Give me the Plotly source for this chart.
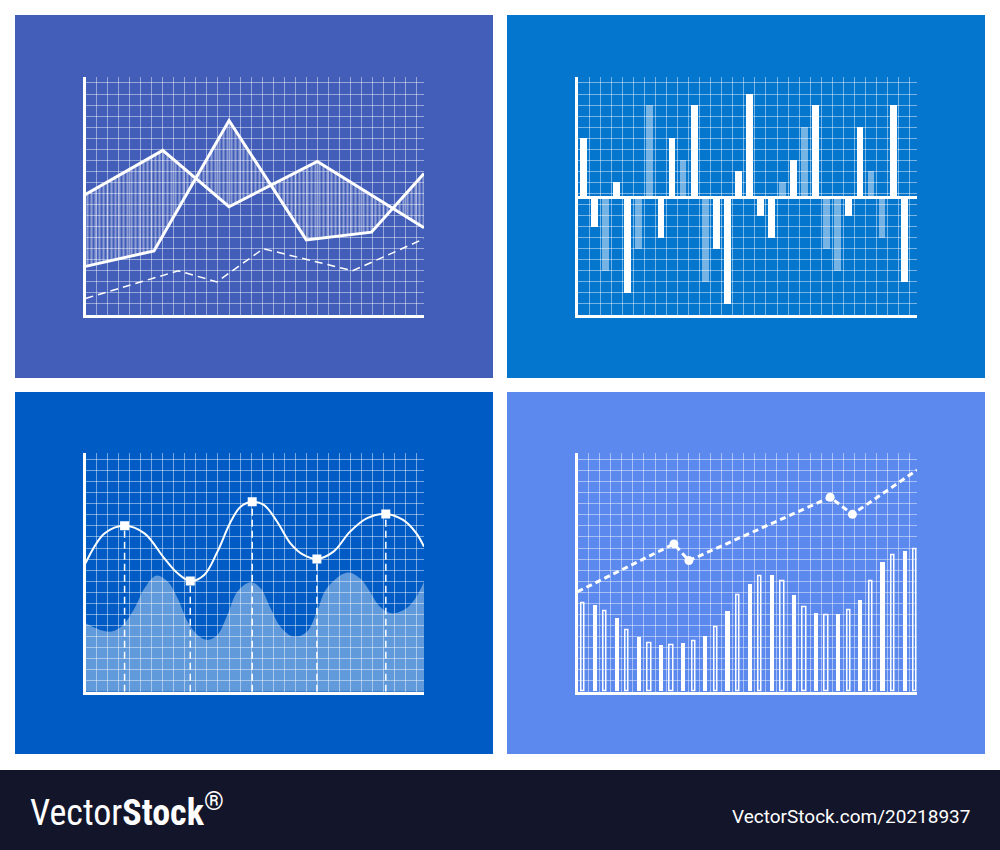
import plotly.graph_objects as go

W, H = 1000, 850

# ---------------- data (values in grid-cell units) ----------------
# Chart 1: two crossing lines with hatched band + dashed line
c1_a_x = [0, 7.0, 13.0, 21.0, 30.66]
c1_a_y = [10.9, 14.9, 9.8, 13.9, 7.9]
c1_b_x = [0, 6.2, 13.0, 20.0, 25.9, 30.66]
c1_b_y = [4.4, 5.8, 17.6, 6.8, 7.5, 12.8]
c1_d_x = [0, 8.4, 11.9, 16.1, 24.2, 30.66]
c1_d_y = [1.5, 4.0, 3.0, 6.0, 4.0, 6.9]

# Chart 2: positive / negative bars (relative to zero line)
c2_values = [5.4, -2.6, -6.6, 1.4, -8.6, -4.6, 8.4, -3.6, 5.4, 3.4,
             8.4, -7.6, -4.6, -9.6, 2.4, 9.4, -1.6, -3.6, 1.4, 3.4,
             6.4, 8.4, -4.6, -6.6, -1.6, 6.4, 2.4, -3.6, 8.4, -7.6]
c2_faded = [0, 0, 1, 0, 0, 1, 1, 0, 0, 1,
            0, 1, 0, 0, 0, 0, 0, 0, 1, 0,
            1, 0, 1, 1, 0, 0, 1, 1, 0, 0]

# Chart 3: smooth curve with highlighted points + wave area
c3_curve_x = [0.0, 1.74, 3.54, 5.34, 7.14, 8.35, 9.49, 10.75, 11.95, 13.15,
              14.05, 15.1, 16.16, 17.36, 18.56, 19.76, 20.96, 22.46, 23.96,
              25.47, 27.2, 28.77, 29.97, 30.66]
c3_curve_y = [11.62, 14.33, 15.02, 14.33, 12.07, 10.71, 10.02, 10.56, 12.67, 15.38,
              16.74, 17.19, 16.9, 15.38, 13.43, 12.37, 12.01, 12.67, 14.48,
              15.69, 16.08, 15.54, 14.33, 13.12]
c3_point_x = [3.54, 9.49, 15.1, 20.96, 27.2]
c3_point_y = [15.02, 10.02, 17.19, 12.01, 16.08]
c3_wave_x = [0.0, 2.04, 3.24, 4.44, 5.34, 6.40, 7.45, 8.35, 9.25, 10.15, 11.05,
             11.95, 12.85, 13.75, 14.95, 15.86, 16.76, 17.66, 18.86, 20.06,
             20.96, 21.86, 23.66, 24.86, 25.77, 26.67, 27.72, 29.07, 29.97, 30.66]
c3_wave_y = [6.19, 5.43, 5.88, 7.55, 9.36, 10.5, 9.95, 8.45, 6.33, 5.13, 4.68,
             5.13, 6.94, 9.05, 9.9, 9.36, 7.55, 5.88, 4.98, 5.43,
             7.24, 9.36, 10.77, 10.26, 9.05, 7.69, 7.09, 7.55, 8.6, 9.95]

# Chart 4: bars + dashed trend line
c4_bars = [8.0, 7.82, 7.3, 6.64, 5.58, 4.89, 4.38, 4.23, 4.23, 4.38,
           4.56, 5.04, 5.83, 7.27, 8.75, 9.75, 10.41, 10.56, 10.02, 8.75,
           7.64, 7.09, 6.94, 7.03, 7.39, 8.24, 10.02, 11.71, 12.37, 12.67, 12.91]
c4_line_x = [0, 8.71, 10.06, 22.82, 24.83, 30.66]
c4_line_y = [9.05, 13.37, 11.86, 17.59, 16.05, 20.06]
c4_marker_idx = [1, 2, 3, 4]

# ---------------- styling ----------------
PANEL1 = "#435EB8"
PANEL2 = "#0476CE"
PANEL3 = "#005CC4"
PANEL4 = "#5B89EE"
FOOTER = "#13152A"
GRID = "rgba(255,255,255,0.45)"


def px_x(p):
    return p / W


def px_y(p):
    return 1 - p / H


def axis(domain, rng, anchor, tick0=0.0, zeroline=False):
    return dict(domain=domain, range=rng, anchor=anchor, showgrid=True,
                gridcolor=GRID, gridwidth=1, dtick=1, tick0=tick0,
                showline=True, linecolor="white", linewidth=3,
                showticklabels=False, ticks="", zeroline=zeroline,
                zerolinecolor="white", zerolinewidth=3, fixedrange=True)


fig = go.Figure()

# ----- Chart 1 -----
fig.add_trace(go.Scatter(x=c1_b_x, y=c1_b_y, mode="lines",
                         line=dict(color="white", width=3),
                         xaxis="x", yaxis="y", hoverinfo="skip"))
fig.add_trace(go.Scatter(x=c1_a_x, y=c1_a_y, mode="lines",
                         line=dict(color="white", width=3),
                         fill="tonexty", fillcolor="rgba(0,0,0,0)",
                         fillpattern=dict(shape="|", size=4, solidity=0.28,
                                          fgcolor="white", fgopacity=0.7,
                                          bgcolor="rgba(0,0,0,0)"),
                         xaxis="x", yaxis="y", hoverinfo="skip"))
fig.add_trace(go.Scatter(x=c1_d_x, y=c1_d_y, mode="lines",
                         line=dict(color="white", width=1.5, dash="8px,5px"),
                         xaxis="x", yaxis="y", hoverinfo="skip"))

# ----- Chart 2 -----
c2_x = [i + 0.5 for i in range(len(c2_values))]
solid_x = [x for x, f in zip(c2_x, c2_faded) if not f]
solid_y = [v for v, f in zip(c2_values, c2_faded) if not f]
faded_x = [x for x, f in zip(c2_x, c2_faded) if f]
faded_y = [v for v, f in zip(c2_values, c2_faded) if f]
fig.add_trace(go.Bar(x=faded_x, y=faded_y, width=0.62,
                     marker=dict(color="rgba(255,255,255,0.45)", line=dict(width=0)),
                     xaxis="x2", yaxis="y2", hoverinfo="skip"))
fig.add_trace(go.Bar(x=solid_x, y=solid_y, width=0.62,
                     marker=dict(color="white", line=dict(width=0)),
                     xaxis="x2", yaxis="y2", hoverinfo="skip"))

# ----- Chart 3 -----
fig.add_trace(go.Scatter(x=c3_wave_x, y=c3_wave_y, mode="lines",
                         line=dict(width=0, shape="spline", smoothing=1.0),
                         fill="tozeroy", fillcolor="rgba(255,255,255,0.38)",
                         xaxis="x3", yaxis="y3", hoverinfo="skip"))
drop_x, drop_y = [], []
for px_, py_ in zip(c3_point_x, c3_point_y):
    drop_x += [px_, px_, None]
    drop_y += [0, py_, None]
fig.add_trace(go.Scatter(x=drop_x, y=drop_y, mode="lines",
                         line=dict(color="white", width=1.5, dash="7px,4px"),
                         xaxis="x3", yaxis="y3", hoverinfo="skip"))
fig.add_trace(go.Scatter(x=c3_curve_x, y=c3_curve_y, mode="lines",
                         line=dict(color="white", width=2, shape="spline", smoothing=1.0),
                         xaxis="x3", yaxis="y3", hoverinfo="skip"))
fig.add_trace(go.Scatter(x=c3_point_x, y=c3_point_y, mode="markers",
                         marker=dict(symbol="square", size=9, color="white"),
                         xaxis="x3", yaxis="y3", hoverinfo="skip"))

# ----- Chart 4 -----
c4_x = [i + 0.5 for i in range(len(c4_bars))]
fig.add_trace(go.Bar(x=c4_x[0::2], y=c4_bars[0::2], width=0.3,
                     marker=dict(color="rgba(0,0,0,0)", line=dict(color="white", width=1.5)),
                     xaxis="x4", yaxis="y4", hoverinfo="skip"))
fig.add_trace(go.Bar(x=c4_x[1::2], y=c4_bars[1::2], width=0.38,
                     marker=dict(color="white", line=dict(width=0)),
                     xaxis="x4", yaxis="y4", hoverinfo="skip"))
fig.add_trace(go.Scatter(x=c4_line_x, y=c4_line_y, mode="lines",
                         line=dict(color="white", width=3, dash="6px,4px"),
                         xaxis="x4", yaxis="y4", hoverinfo="skip"))
fig.add_trace(go.Scatter(x=[c4_line_x[i] for i in c4_marker_idx],
                         y=[c4_line_y[i] for i in c4_marker_idx], mode="markers",
                         marker=dict(symbol="circle", size=9, color="white"),
                         xaxis="x4", yaxis="y4", hoverinfo="skip"))

# ----- panels / footer -----
shapes = []
panels = [(15, 15, 493, 378, PANEL1), (507, 15, 985, 378, PANEL2),
          (15, 392, 493, 754, PANEL3), (507, 392, 985, 754, PANEL4)]
for x0, y0, x1, y1, col in panels:
    shapes.append(dict(type="rect", xref="paper", yref="paper",
                       x0=px_x(x0), x1=px_x(x1), y0=px_y(y1), y1=px_y(y0),
                       fillcolor=col, line=dict(width=0), layer="below"))
shapes.append(dict(type="rect", xref="paper", yref="paper",
                   x0=0, x1=1, y0=0, y1=px_y(770),
                   fillcolor=FOOTER, line=dict(width=0), layer="below"))

annotations = [
    dict(text="Vector<b>Stock</b><sup>®</sup>", xref="paper", yref="paper",
         x=px_x(28), y=px_y(810), xanchor="left", yanchor="middle", showarrow=False,
         font=dict(family="Liberation Sans Narrow, Roboto Condensed, Roboto", size=36, color="white")),
    dict(text="VectorStock.com/20218937", xref="paper", yref="paper",
         x=px_x(972), y=px_y(816), xanchor="right", yanchor="middle", showarrow=False,
         font=dict(family="Roboto, Liberation Sans", size=19, color="white")),
]

XR = [0, 30.66]
top_dom = [px_y(315), px_y(77)]
bot_dom = [px_y(691.7), px_y(453.3)]

fig.update_layout(
    width=W, height=H, margin=dict(l=0, r=0, t=0, b=0),
    paper_bgcolor="white", plot_bgcolor="rgba(0,0,0,0)",
    showlegend=False, barmode="overlay", bargap=0,
    xaxis=axis([px_x(85.5), px_x(424)], XR, "y"),
    yaxis=axis(top_dom, [0, 21.54], "x"),
    xaxis2=axis([px_x(578), px_x(917)], XR, "y2"),
    yaxis2=axis(top_dom, [-10.6, 10.94], "x2", tick0=0.4, zeroline=True),
    xaxis3=axis([px_x(85.5), px_x(424)], XR, "y3"),
    yaxis3=axis(bot_dom, [0, 21.57], "x3"),
    xaxis4=axis([px_x(577.5), px_x(917)], XR, "y4"),
    yaxis4=axis(bot_dom, [0, 21.57], "x4"),
    shapes=shapes, annotations=annotations,
)

fig.write_html("out.html", config={"displayModeBar": False},
               post_script="document.body.style.margin='0';document.body.style.overflow='hidden';")
